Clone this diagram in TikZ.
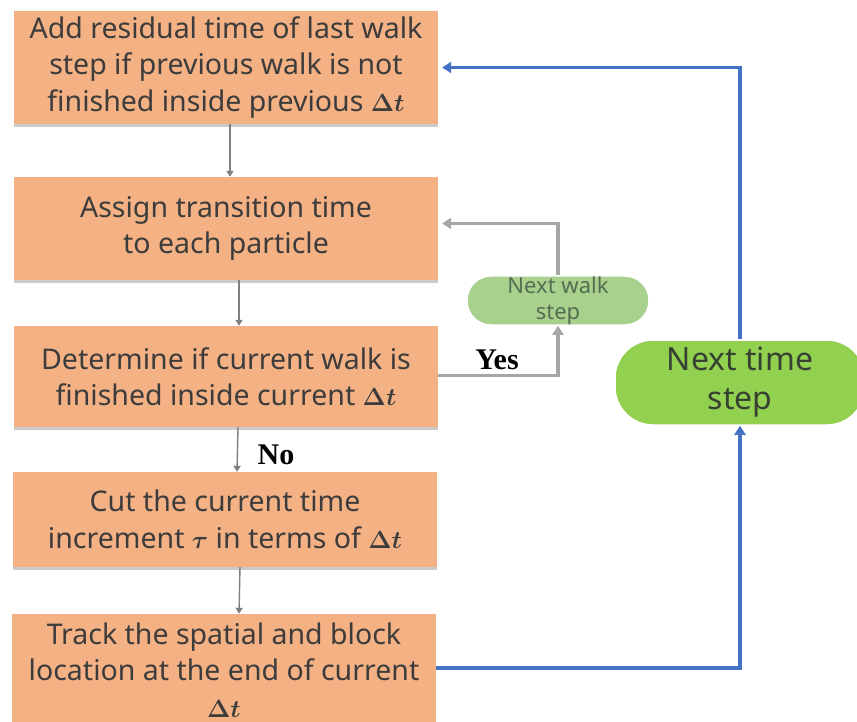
\documentclass[tikz,border=0pt]{standalone}
\usepackage{fontspec}
\usepackage{bm}
\setmainfont{Noto Sans}
\newfontfamily\labfont{Liberation Serif}
\usetikzlibrary{arrows.meta,shadows}
\definecolor{boxfill}{RGB}{244,177,131}
\definecolor{boxtext}{RGB}{60,60,60}
\definecolor{greenA}{RGB}{146,208,80}
\definecolor{greenB}{RGB}{169,209,142}
\definecolor{bluel}{RGB}{68,114,196}
\definecolor{grayA}{RGB}{127,127,127}
\definecolor{grayB}{RGB}{166,166,166}
\tikzset{
  procbox/.style={rectangle, fill=boxfill, text=boxtext, minimum width=424pt,
    align=center, font=\fontsize{28.5}{36.5}\selectfont, inner sep=0pt,
    drop shadow={shadow xshift=0pt, shadow yshift=-3pt, fill=black!45, opacity=.45}},
  thinarr/.style={draw=grayA, line width=1.4pt, -{Triangle[width=7pt,length=6pt]}},
  looparr/.style={draw=grayB, line width=3.5pt, -{Triangle[width=11pt,length=9pt]}},
  bluearr/.style={draw=bluel, line width=3.5pt, -{Triangle[width=11pt,length=9pt]}},
  lab/.style={font=\labfont\bfseries\fontsize{30}{34}\selectfont, text=black}
}
\begin{document}
\begin{tikzpicture}[x=1pt,y=-1pt]
\useasboundingbox (0,0) rectangle (857,722);
\node[procbox, minimum height=113pt] (b1) at (226,67.5)
  {Add residual time of last walk\\ step if previous walk is not\\ finished inside previous $\bm{\Delta t}$};
\node[procbox, minimum height=103pt] (b2) at (226,228.5)
  {Assign transition time\\ to each particle};
\node[procbox, minimum height=101pt] (b3) at (226,376.5)
  {Determine if current walk is\\ finished inside current $\bm{\Delta t}$};
\node[procbox, minimum height=95pt] (b4) at (225,519.5)
  {Cut the current time\\ increment $\bm{\tau}$ in terms of $\bm{\Delta t}$};
\node[procbox, minimum height=112pt] (b5) at (224,670)
  {Track the spatial and block\\ location at the end of current\\ $\bm{\Delta t}$};
\node[rectangle, rounded corners=24pt, fill=greenB, draw=white, line width=1.5pt,
  minimum width=182pt, minimum height=49pt, inner sep=0pt, align=center,
  text={rgb,255:red,85;green,110;blue,80}, font=\fontsize{22}{26}\selectfont] (nws) at (558,300.5)
  {Next walk\\ step};
\node[rectangle, rounded corners=38pt, fill=greenA, draw=white, line width=1.5pt,
  minimum width=250pt, minimum height=85pt, inner sep=0pt, align=center,
  text={rgb,255:red,55;green,65;blue,50}, font=\fontsize{32}{39}\selectfont] (nts) at (740,382.5)
  {Next time\\ step};
\draw[thinarr] ([xshift=4pt]b1.south) -- ([xshift=4pt]b2.north);
\draw[thinarr] ([xshift=13pt]b2.south) -- ([xshift=13pt]b3.north);
\draw[thinarr] ([xshift=12pt]b3.south) -- ([xshift=12pt]b4.north);
\draw[thinarr] ([xshift=15pt]b4.south) -- ([xshift=15pt]b5.north);
\draw[looparr] ([yshift=1pt]b3.east) -| (nws.south);
\draw[looparr, shorten >=4pt] (nws.north) |- ([yshift=5pt]b2.east);
\draw[bluearr] ([yshift=2pt]b5.east) -| (nts.south);
\draw[bluearr, shorten >=4pt] (nts.north) |- (b1.east);
\node[lab] (yes) at (497,360) {Yes};
\node[lab] (no) at (276,455) {No};
\end{tikzpicture}
\end{document}
